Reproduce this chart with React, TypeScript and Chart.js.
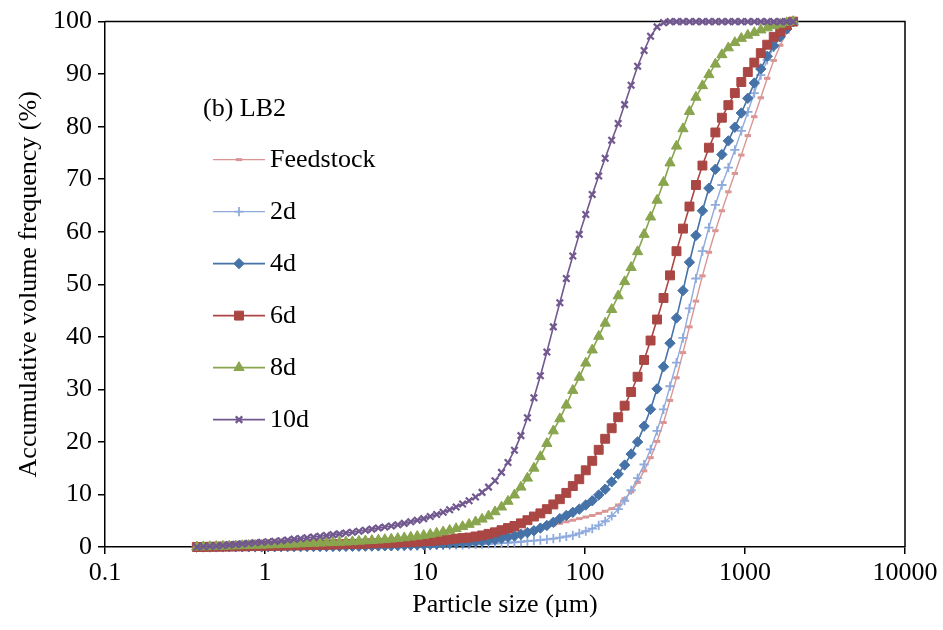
import React, { useEffect, useRef } from 'react';
import { Chart, registerables } from 'chart.js';
import { drawPoint } from 'chart.js/helpers';

Chart.register(...registerables);

// Particle size classes (µm)
const sizes = [
  0.375, 0.412, 0.452, 0.496, 0.545, 0.598, 0.656, 0.721, 0.791, 0.868,
  0.953, 1.047, 1.149, 1.261, 1.385, 1.52, 1.669, 1.832, 2.01, 2.207,
  2.423, 2.66, 2.92, 3.205, 3.519, 3.863, 4.24, 4.655, 5.11, 5.61,
  6.158, 6.76, 7.421, 8.147, 8.943, 9.817, 10.78, 11.83, 12.99, 14.26,
  15.65, 17.18, 18.86, 20.7, 22.73, 24.95, 27.39, 30.07, 33.01, 36.24,
  39.78, 43.67, 47.94, 52.62, 57.77, 63.41, 69.61, 76.42, 83.89, 92.09,
  101.1, 111, 121.8, 133.7, 146.8, 161.2, 176.9, 194.2, 213.2, 234.1,
  256.9, 282.1, 309.6, 339.9, 373.1, 409.6, 449.7, 493.6, 541.9, 594.9,
  653, 716.9, 786.9, 863.9, 948.3, 1041, 1143, 1255, 1377, 1512,
  1660, 1822, 2000,
];

// Accumulative volume frequency (%) per size class
const feedstock = [
  0, 0.01, 0.02, 0.03, 0.04, 0.05, 0.06, 0.07, 0.08, 0.09,
  0.1, 0.12, 0.14, 0.16, 0.18, 0.2, 0.22, 0.24, 0.26, 0.28,
  0.3, 0.32, 0.34, 0.36, 0.38, 0.4, 0.42, 0.44, 0.46, 0.48,
  0.5, 0.55, 0.6, 0.68, 0.76, 0.85, 0.95, 1.05, 1.15, 1.27,
  1.4, 1.55, 1.7, 1.85, 1.95, 2.1, 2.3, 2.5, 2.65, 2.8,
  3.0, 3.2, 3.4, 3.6, 3.9, 4.2, 4.5, 4.8, 5.1, 5.4,
  5.7, 6.0, 6.4, 6.8, 7.3, 8.0, 9.2, 10.5, 12.3, 14.5,
  17.0, 20.1, 23.7, 27.9, 32.2, 37.0, 41.9, 46.8, 51.6, 56.1,
  60.2, 64.0, 67.6, 71.1, 74.6, 78.3, 81.9, 85.5, 89.2, 92.6,
  95.5, 98.0, 100,
];

const day2 = [
  0, 0, 0.01, 0.01, 0.01, 0.02, 0.02, 0.02, 0.03, 0.03,
  0.03, 0.04, 0.04, 0.04, 0.05, 0.05, 0.06, 0.06, 0.07, 0.07,
  0.08, 0.08, 0.09, 0.09, 0.1, 0.1, 0.11, 0.12, 0.13, 0.14,
  0.15, 0.16, 0.18, 0.2, 0.22, 0.24, 0.26, 0.29, 0.32, 0.35,
  0.38, 0.42, 0.46, 0.5, 0.55, 0.6, 0.66, 0.72, 0.8, 0.9,
  1.0, 1.1, 1.2, 1.3, 1.45, 1.6, 1.8, 2.0, 2.2, 2.6,
  3.0, 3.5, 4.1, 4.9, 5.9, 7.2, 8.8, 10.8, 13.1, 15.7,
  18.6, 22.1, 26.2, 30.6, 35.1, 39.8, 45.4, 51.1, 56.3, 60.8,
  65.1, 68.9, 72.2, 75.6, 79.2, 82.8, 86.4, 89.8, 92.7, 95.1,
  97.0, 98.6, 100,
];

const day4 = [
  0, 0.01, 0.01, 0.02, 0.02, 0.03, 0.03, 0.04, 0.04, 0.05,
  0.05, 0.06, 0.06, 0.07, 0.07, 0.08, 0.08, 0.09, 0.09, 0.1,
  0.1, 0.11, 0.12, 0.13, 0.14, 0.15, 0.17, 0.19, 0.21, 0.23,
  0.25, 0.28, 0.31, 0.35, 0.4, 0.45, 0.5, 0.56, 0.62, 0.68,
  0.75, 0.82, 0.9, 1.0, 1.1, 1.25, 1.4, 1.6, 1.85, 2.1,
  2.4, 2.75, 3.1, 3.6, 4.1, 4.7, 5.4, 6.0, 6.6, 7.2,
  8.0, 8.8, 9.9, 11.0, 12.4, 13.9, 15.6, 17.7, 20.0, 23.0,
  26.2, 30.1, 34.3, 38.8, 43.6, 48.8, 54.2, 59.3, 64.0, 68.3,
  71.9, 74.7, 77.3, 79.9, 82.6, 85.4, 88.3, 91.0, 93.4, 95.4,
  97.1, 98.6, 100,
];

const day6 = [
  0, 0.02, 0.04, 0.06, 0.08, 0.1, 0.12, 0.14, 0.16, 0.18,
  0.2, 0.22, 0.24, 0.26, 0.28, 0.3, 0.33, 0.36, 0.39, 0.42,
  0.45, 0.48, 0.51, 0.54, 0.57, 0.6, 0.64, 0.68, 0.72, 0.76,
  0.8, 0.85, 0.9, 0.96, 1.02, 1.08, 1.15, 1.25, 1.35, 1.45,
  1.6, 1.7, 1.8, 2.0, 2.2, 2.5, 2.8, 3.2, 3.6, 4.0,
  4.5, 5.1, 5.8, 6.4, 7.2, 8.1, 9.1, 10.3, 11.6, 12.9,
  14.6, 16.4, 18.5, 20.6, 22.6, 24.7, 26.9, 29.5, 32.4, 35.6,
  39.3, 43.3, 47.4, 51.7, 56.3, 60.6, 64.8, 68.9, 72.6, 76.0,
  78.9, 81.7, 84.1, 86.4, 88.5, 90.4, 92.2, 94.0, 95.6, 97.1,
  98.1, 99.3, 100,
];

const day8 = [
  0, 0.03, 0.06, 0.1, 0.14, 0.18, 0.22, 0.26, 0.3, 0.33,
  0.35, 0.39, 0.43, 0.47, 0.51, 0.55, 0.6, 0.65, 0.7, 0.75,
  0.8, 0.85, 0.9, 0.95, 1.0, 1.1, 1.17, 1.24, 1.32, 1.4,
  1.5, 1.62, 1.75, 1.88, 2.03, 2.2, 2.4, 2.62, 2.88, 3.17,
  3.5, 3.88, 4.3, 4.78, 5.3, 5.9, 6.7, 7.6, 8.7, 9.9,
  11.4, 13.1, 15.0, 17.2, 19.7, 22.1, 24.4, 27.0, 29.8, 32.3,
  35.0, 37.5, 40.1, 42.6, 45.2, 47.8, 50.5, 53.2, 56.2, 59.5,
  62.8, 66.0, 69.4, 73.1, 76.3, 79.6, 82.9, 85.6, 87.8, 89.9,
  91.9, 93.7, 95.0, 96.0, 96.8, 97.4, 97.9, 98.4, 98.8, 99.2,
  99.5, 99.8, 100,
];

const day10 = [
  0, 0.1, 0.15, 0.2, 0.3, 0.4, 0.5, 0.6, 0.7, 0.8,
  0.9, 1.0, 1.1, 1.2, 1.35, 1.5, 1.6, 1.75, 1.9, 2.05,
  2.2, 2.35, 2.5, 2.65, 2.8, 3.0, 3.2, 3.4, 3.6, 3.8,
  4.0, 4.25, 4.5, 4.8, 5.1, 5.4, 5.8, 6.2, 6.6, 7.1,
  7.6, 8.2, 8.8, 9.5, 10.4, 11.4, 12.6, 14.2, 16.1, 18.4,
  21.2, 24.6, 28.4, 32.6, 37.1, 41.9, 46.5, 51.1, 55.4, 59.5,
  63.3, 67.1, 70.6, 74.0, 77.4, 80.6, 84.2, 87.9, 91.5, 94.5,
  97.2, 99.0, 99.8, 100, 100, 100, 100, 100, 100, 100,
  100, 100, 100, 100, 100, 100, 100, 100, 100, 100,
  100, 100, 100,
];

const seriesLabels = ['Feedstock', '2d', '4d', '6d', '8d', '10d'];
const xTickValues = [0.1, 1, 10, 100, 1000, 10000];
const yTickValues = [0, 10, 20, 30, 40, 50, 60, 70, 80, 90, 100];
const panelTitle = '(b) LB2';
const xTitle = 'Particle size (µm)';
const yTitle = 'Accumulative volume frequency (%)';

const FONT = '"Liberation Serif", "Times New Roman", Times, serif';
const FONT_SIZE = 26;

type SeriesStyle = {
  color: string;
  pointStyle: string;
  radius: number;
  pointBorderWidth: number;
  lineWidth: number;
  fill: boolean;
};

const styles: SeriesStyle[] = [
  { color: '#D99694', pointStyle: 'line', radius: 3.2, pointBorderWidth: 3, lineWidth: 1.4, fill: false },
  { color: '#8FAADC', pointStyle: 'cross', radius: 4.6, pointBorderWidth: 1.8, lineWidth: 1.4, fill: false },
  { color: '#4572A7', pointStyle: 'rectRot', radius: 5.2, pointBorderWidth: 1, lineWidth: 1.6, fill: true },
  { color: '#AA4643', pointStyle: 'rect', radius: 6.3, pointBorderWidth: 1, lineWidth: 1.6, fill: true },
  { color: '#89A54E', pointStyle: 'triangle', radius: 5.9, pointBorderWidth: 1, lineWidth: 1.6, fill: true },
  { color: '#71588F', pointStyle: 'crossRot', radius: 4.6, pointBorderWidth: 2.2, lineWidth: 1.6, fill: false },
];

const seriesValues = [feedstock, day2, day4, day6, day8, day10];

// Frame line along the top and right of the plot area
const framePlugin = {
  id: 'plotFrame',
  beforeDatasetsDraw(chart: any) {
    const { ctx, chartArea } = chart;
    ctx.save();
    ctx.strokeStyle = '#000';
    ctx.lineWidth = 1.5;
    ctx.beginPath();
    ctx.moveTo(chartArea.left, chartArea.top);
    ctx.lineTo(chartArea.right, chartArea.top);
    ctx.lineTo(chartArea.right, chartArea.bottom);
    ctx.stroke();
    ctx.restore();
  },
};

// Legend drawn inside the plot, with the panel title above it
const panelLegendPlugin = {
  id: 'panelLegend',
  afterDatasetsDraw(chart: any) {
    const { ctx, chartArea } = chart;
    const left = chartArea.left;
    const top = chartArea.top;
    ctx.save();
    ctx.font = `${FONT_SIZE}px ${FONT}`;
    ctx.fillStyle = '#000';
    ctx.textAlign = 'left';
    ctx.textBaseline = 'middle';
    ctx.fillText(panelTitle, left + 98, top + 88);
    chart.data.datasets.forEach((ds: any, i: number) => {
      const st = styles[i];
      const y = top + 138 + i * 52;
      const x0 = left + 108;
      const x1 = left + 160;
      ctx.strokeStyle = st.color;
      ctx.lineWidth = st.lineWidth;
      ctx.beginPath();
      ctx.moveTo(x0, y);
      ctx.lineTo(x1, y);
      ctx.stroke();
      ctx.fillStyle = st.color;
      ctx.strokeStyle = st.color;
      ctx.lineWidth = st.pointBorderWidth;
      drawPoint(ctx, { pointStyle: st.pointStyle, radius: st.radius, borderWidth: st.pointBorderWidth, rotation: 0 } as any, (x0 + x1) / 2, y);
      ctx.fillStyle = '#000';
      ctx.fillText(ds.label, left + 165, y + 1);
    });
    ctx.restore();
  },
};

export default function App() {
  const canvasRef = useRef<HTMLCanvasElement | null>(null);

  useEffect(() => {
    document.body.style.margin = '0';
    const canvas = canvasRef.current;
    if (!canvas) return;

    const datasets = seriesLabels.map((label, i) => {
      const st = styles[i];
      return {
        label,
        data: sizes.map((s, k) => ({ x: s, y: seriesValues[i][k] })),
        borderColor: st.color,
        backgroundColor: st.color,
        borderWidth: st.lineWidth,
        pointStyle: st.pointStyle,
        pointRadius: st.radius,
        pointBorderWidth: st.pointBorderWidth,
        pointBackgroundColor: st.fill ? st.color : 'transparent',
        pointBorderColor: st.color,
        tension: 0,
        clip: false as any,
        order: seriesLabels.length - i,
      };
    });

    const chart = new Chart(canvas, {
      type: 'line',
      data: { datasets },
      options: {
        animation: false,
        responsive: false,
        devicePixelRatio: 1,
        layout: { padding: { top: 20, right: 38, left: 0, bottom: 0 } },
        plugins: {
          legend: { display: false },
          tooltip: { enabled: false },
        },
        scales: {
          x: {
            type: 'logarithmic',
            min: 0.1,
            max: 10000,
            afterBuildTicks: (scale: any) => {
              scale.ticks = xTickValues.map((v) => ({ value: v }));
            },
            afterFit: (scale: any) => {
              scale.height = 83;
            },
            ticks: {
              autoSkip: false,
              maxRotation: 0,
              color: '#000',
              padding: 4,
              font: { family: FONT, size: FONT_SIZE },
              callback: (v: any) => String(v),
            },
            grid: { drawOnChartArea: false, drawTicks: true, tickLength: 7, color: '#000', lineWidth: 1.5 },
            border: { display: true, color: '#000', width: 1.5 },
            title: {
              display: true,
              text: xTitle,
              color: '#000',
              font: { family: FONT, size: FONT_SIZE },
              padding: { top: 0, bottom: 9 },
            },
          },
          y: {
            type: 'linear',
            min: 0,
            max: 100,
            afterBuildTicks: (scale: any) => {
              scale.ticks = yTickValues.map((v) => ({ value: v }));
            },
            afterFit: (scale: any) => {
              scale.width = 105;
            },
            ticks: {
              color: '#000',
              padding: 6,
              font: { family: FONT, size: FONT_SIZE },
            },
            grid: { drawOnChartArea: false, drawTicks: true, tickLength: 7, color: '#000', lineWidth: 1.5 },
            border: { display: true, color: '#000', width: 1.5 },
            title: {
              display: true,
              text: yTitle,
              color: '#000',
              font: { family: FONT, size: FONT_SIZE },
              padding: { top: 14, bottom: 0 },
            },
          },
        },
      },
      plugins: [framePlugin, panelLegendPlugin],
    } as any);

    return () => chart.destroy();
  }, []);

  return (
    <div style={{ width: 943, height: 630, background: '#fff' }}>
      <canvas ref={canvasRef} width={943} height={630} style={{ display: 'block' }} />
    </div>
  );
}
